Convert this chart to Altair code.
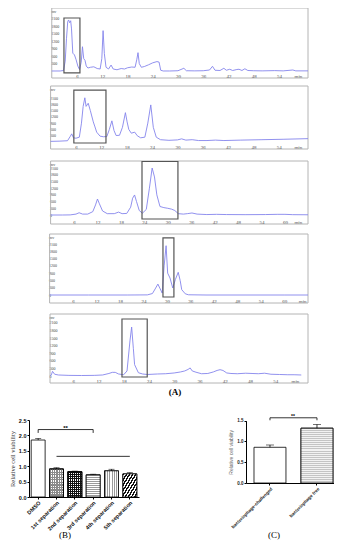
import altair as alt
import pandas as pd

SERIF = "Liberation Serif"
SANS = "Liberation Sans"

# ---------------- (A) chromatograms: retention time (min) / signal (mV) ----------------
t1 = [0, 1, 2, 2.8, 3.2, 3.5, 3.8, 4.0, 4.25, 4.5, 4.7, 5.0, 5.4, 5.8, 6.2, 6.6, 7.0, 7.3, 7.6, 7.9,
      8.2, 8.6, 9.2, 10.0, 10.8, 11.5, 11.9, 12.2, 12.5, 12.9, 13.5, 14.1, 14.6, 15.5, 16.5, 17.3,
      18.0, 19.0, 19.8, 20.2, 20.5, 20.8, 21.3, 22.0, 23.0, 24.0, 25.0, 25.5, 25.9, 26.5, 28, 30,
      31.4, 32, 34, 36, 37.5, 38.2, 38.8, 40, 40.9, 41.5, 42.3, 43, 44, 44.5, 45.2, 45.9, 46.6, 48,
      50, 53, 55, 57.3, 58, 60.9]
v1 = [0, 0, 0, 20, 400, 1300, 2000, 2060, 1950, 2030, 1700, 720, 650, 450, 200, 60, 350, 980, 500, 430,
      200, 120, 150, 170, 100, 80, 500, 1630, 700, 150, 80, 240, 80, 50, 100, 80,
      130, 160, 150, 450, 740, 300, 150, 180, 250, 330, 380, 360, 30, 0, 0, 10,
      110, 10, 5, 10, 40, 190, 30, 20, 110, 30, 70, 20, 60, 70, 20, 90, 20, 10,
      5, 15, 5, 40, 5, 5]

t2 = [0, 2, 4, 4.6, 5.0, 5.4, 6.0, 6.8, 7.3, 7.7, 8.1, 8.4, 8.9, 9.4, 10.1, 10.5, 10.9, 11.7, 12.5, 13.3,
      13.9, 14.5, 15.0, 15.5, 16.3, 17.0, 17.7, 18.1, 18.5, 19.1, 19.9, 20.5, 21.3, 22.3, 23.0, 23.7,
      24.3, 25.0, 26.0, 28, 30, 31, 32, 33.5, 35, 37, 39, 41, 45, 50, 55, 60.9]
v2 = [30, 40, 60, 250, 390, 200, 180, 230, 900, 1700, 2110, 1700, 1850, 1500, 960, 720, 470, 280, 250, 260,
      600, 1010, 550, 310, 320, 700, 1400, 960, 600, 420, 470, 300, 200, 230, 900, 1770,
      700, 230, 110, 80, 100, 150, 90, 110, 70, 70, 90, 70, 90, 110, 130, 160]

t3 = [0, 3, 5, 6.5, 7.3, 8.2, 9.5, 10.8, 11.5, 12.0, 12.5, 13.3, 14.5, 16.3, 17.4, 18.3, 19.5, 20.5, 21.0, 21.5,
      22.0, 22.7, 23.5, 24.5, 25.3, 26.0, 26.6, 27.2, 28.0, 29.0, 30.0, 31.0, 31.8, 32.7, 34, 35, 36.2, 37.5,
      40, 42.5, 45, 50, 55, 58, 60, 62, 65.9]
v3 = [0, 0, 5, 40, 100, 40, 40, 150, 450, 715, 500, 180, 60, 60, 130, 60, 70, 350, 750, 895,
      600, 200, 80, 250, 1200, 2100, 1700, 900, 380, 330, 300, 260, 200, 60, 40, 60, 90, 40,
      20, 30, 20, 15, 20, 30, 30, 15, 10]

t4 = [0, 10, 20, 25, 26.3, 27.0, 27.7, 28.3, 28.8, 29.3, 29.8, 30.2, 30.8, 31.5, 32.2, 32.9, 33.4, 33.8,
      34.7, 35.5, 40, 50, 60, 66.1]
v4 = [0, 0, 0, 5, 60, 250, 450, 250, 80, 1200, 2030, 900, 700, 290, 650, 935, 600, 220,
      50, 10, 0, 0, 0, 0]

t5 = [0.5, 0.8, 1.1, 1.6, 2.5, 5, 8, 11, 13, 14.5, 15.3, 16.0, 16.8, 18.0, 18.8, 19.5, 19.9, 20.3, 20.6, 21.5,
      22.5, 23.6, 26, 28, 30, 31.5, 32.5, 33.3, 33.8, 34.3, 35.2, 36.5, 38, 39.3, 40.2, 40.9, 41.6, 42.5,
      43.5, 45, 47, 48.5, 50, 51.5, 53, 55, 57, 58.5, 60.2]
v5 = [0, 40, 185, 70, 40, 25, 20, 25, 40, 100, 145, 145, 80, 50, 200, 1390, 1940, 1100, 450, 130,
      80, 60, 80, 90, 120, 160, 200, 260, 320, 200, 150, 90, 100, 160, 220, 250, 220, 120,
      100, 90, 110, 100, 90, 110, 70, 60, 50, 50, 40]

# highlighted fractions: [t_start, t_end, low, high]
box1 = [2.9, 6.7, -80, 2140]
box2 = [5.5, 13.1, -48, 2480]
box3 = [23.4, 32.6, -179, 2390]
box4 = [29.0, 31.8, -82, 2350]
box5 = [17.6, 23.6, -40, 2257]

x_ticks_a = [6, 12, 18, 24, 30, 36, 42, 48, 54]
x_ticks_b = [6, 12, 18, 24, 30, 36, 42, 48, 54, 60]
y_ticks_a = [300, 600, 900, 1200, 1500, 1800, 2100]
y_ticks_b = [0, 300, 600, 900, 1200, 1500, 1800, 2100]

# ---------------- (B) and (C) cell viability ----------------
b_cats = ["DMSO", "1st separation", "2nd separation", "3rd separation", "4th separation", "5th separation"]
b_vals = [1.85, 0.91, 0.82, 0.72, 0.85, 0.75]
b_errs = [0.05, 0.04, 0.02, 0.02, 0.05, 0.04]
b_bracket = [2.08, 2.19]       # significance bracket DMSO vs 3rd separation
b_line = 1.32                   # line over separations
c_cats = ["bacteriophage-challenged", "bacteriophage free"]
c_vals = [0.86, 1.32]
c_errs = [0.055, 0.09]
c_bracket = [1.51, 1.57]

# ---------------- layout (pixels) ----------------
W, H = 326, 534
LINE = "#8585ec"
FRAME = "#b4b4b4"
BOX = "#555555"

geo = [
    dict(xdom=[0, 60.9], xr=[43.75, 300], ydom=[-283, 2544], yr=[70, 0], xt=x_ticks_a, yt=y_ticks_a, minv=58.5),
    dict(xdom=[0, 60.9], xr=[42.6, 300], ydom=[-334, 2673], yr=[141, 78], xt=x_ticks_a, yt=y_ticks_a, minv=58.5),
    dict(xdom=[0, 65.9], xr=[42.6, 300], ydom=[-402, 2413], yr=[216, 153], xt=x_ticks_b, yt=y_ticks_b, minv=63.3),
    dict(xdom=[0, 66.1], xr=[41.6, 300], ydom=[-329, 2512], yr=[295, 226], xt=x_ticks_b, yt=y_ticks_b, minv=64.6),
    dict(xdom=[0.5, 61.8], xr=[42, 300], ydom=[-277, 2456], yr=[375, 306], xt=x_ticks_a, yt=y_ticks_b, minv=58.7),
]


def chrom(t, v, box, g):
    df = pd.DataFrame({"t": t, "v": v})

    def xs():
        return alt.Scale(domain=g["xdom"], range=g["xr"], nice=False, zero=False)

    def ys():
        return alt.Scale(domain=g["ydom"], range=g["yr"], nice=False, zero=False)

    upp = (g["ydom"][1] - g["ydom"][0]) / (g["yr"][0] - g["yr"][1])
    mv = round(g["ydom"][1] - 3.5 * upp)
    xaxis = alt.Axis(orient="bottom", offset=-(H - g["yr"][0]), values=g["xt"] + [g["minv"]],
                     labelExpr=f"datum.value == {g['minv']} ? 'min' : datum.label",
                     domain=False, ticks=False, tickSize=0, grid=False, labelPadding=-3,
                     labelBaseline="middle", labelFont=SERIF, labelFontSize=5, labelColor="#444",
                     labelFlush=False, labelOverlap=False, title=None)
    yaxis = alt.Axis(orient="left", offset=-g["xr"][0], values=g["yt"] + [mv], format="d",
                     labelExpr=f"datum.value == {mv} ? 'mv' : datum.label",
                     domain=False, ticks=False, tickSize=0, grid=False, labelPadding=1,
                     labelAlign="left", labelBaseline="middle", labelFont=SERIF, labelFontSize=4,
                     labelColor="#444", labelFlush=False, labelOverlap=False, title=None)
    frame = alt.Chart(pd.DataFrame({"k": [0]})).mark_rect(
        fillOpacity=0, stroke=FRAME, strokeWidth=1).encode(
        x=alt.X(datum=g["xdom"][0], scale=xs(), axis=None), x2=alt.X2(datum=g["xdom"][1]),
        y=alt.Y(datum=g["ydom"][0], scale=ys(), axis=None), y2=alt.Y2(datum=g["ydom"][1]))
    line = alt.Chart(df).mark_line(color=LINE, strokeWidth=0.9).encode(
        x=alt.X("t:Q", scale=xs(), axis=xaxis), y=alt.Y("v:Q", scale=ys(), axis=yaxis))
    bdf = pd.DataFrame({"a": [box[0]], "b": [box[1]], "lo": [box[2]], "hi": [box[3]]})
    rect = alt.Chart(bdf).mark_rect(fillOpacity=0, stroke=BOX, strokeWidth=1.2).encode(
        x=alt.X("a:Q", scale=xs(), axis=None), x2="b:Q",
        y=alt.Y("lo:Q", scale=ys(), axis=None), y2="hi:Q")
    return [frame, line, rect]


layers = []
for (t, v, b, g) in [(t1, v1, box1, geo[0]), (t2, v2, box2, geo[1]), (t3, v3, box3, geo[2]),
                     (t4, v4, box4, geo[3]), (t5, v5, box5, geo[4])]:
    layers += chrom(t, v, b, g)


def stripes(orient, n, line, bg, frac=0.5):
    x1, y1, x2, y2 = {"h": (0, 0, 0, 1), "v": (0, 0, 1, 0), "d": (0, 0, 1, 1)}[orient]
    stops = []
    for i in range(n):
        a, b, c = i / n, (i + frac) / n, (i + 1) / n
        stops += [{"offset": a, "color": line}, {"offset": b, "color": line},
                  {"offset": b, "color": bg}, {"offset": c, "color": bg}]
    return {"gradient": "linear", "x1": x1, "y1": y1, "x2": x2, "y2": y2, "stops": stops}


CLEAR = "rgba(255,255,255,0)"

# ---- panel B ----
B_Y0, B_Y1 = 489, 412
B_PPU = (B_Y0 - B_Y1) / 2.5
B_BW = 14
dfb = pd.DataFrame({"cat": b_cats, "val": b_vals, "hi": [v + e for v, e in zip(b_vals, b_errs)]})


def xB():
    return alt.Scale(type="band", domain=b_cats, range=[21, 131], paddingInner=0.24, paddingOuter=0.12)


def yB():
    return alt.Scale(domain=[0, 2.5], range=[B_Y0, B_Y1], nice=False, zero=False)


xB_axis = alt.Axis(orient="bottom", offset=-(H - B_Y0), labelAngle=315, labelFont=SANS,
                   labelFontWeight="bold", labelFontSize=5.5, labelColor="#111", tickSize=2,
                   domainColor="#000", tickColor="#000", labelPadding=1, title=None, grid=False)
yB_axis = alt.Axis(orient="left", offset=-21, values=[0, 0.5, 1.0, 1.5, 2.0, 2.5], format=".1f",
                   labelFont=SANS, labelFontWeight="bold", labelFontSize=5.5, labelColor="#111",
                   tickSize=2, domainColor="#000", tickColor="#000", labelPadding=1, grid=False,
                   title="Relative cell viability", titleFont=SERIF, titleFontSize=6.5,
                   titleFontWeight="normal", titleColor="#333", titlePadding=3)


def bpx(c):
    return b_vals[b_cats.index(c)] * B_PPU


b_fills = {
    "1st separation": [stripes("h", round(bpx("1st separation") / 2.5), "#8a8a8a", "#ffffff"),
                       stripes("v", round(B_BW / 2.5), "#8a8a8a", CLEAR)],
    "2nd separation": [stripes("h", round(bpx("2nd separation") / 2.0), "#111111", "#ffffff"),
                       stripes("v", round(B_BW / 2.0), "#111111", CLEAR)],
    "3rd separation": [stripes("h", round(bpx("3rd separation") / 2.0), "#9a9a9a", "#ffffff", 0.4)],
    "4th separation": [stripes("v", round(B_BW / 2.2), "#9a9a9a", "#ffffff", 0.45)],
    "5th separation": [stripes("d", 9, "#111111", "#ffffff")],
}

XB = dict(scale=xB(), axis=None, sort=b_cats)
base_b = alt.Chart(dfb)
layers.append(base_b.mark_bar(fill="white", stroke="#000", strokeWidth=0.8).encode(
    x=alt.X("cat:N", scale=xB(), axis=xB_axis, sort=b_cats), y=alt.Y("val:Q", scale=yB(), axis=yB_axis)))
for cat, fills in b_fills.items():
    for f in fills:
        layers.append(base_b.transform_filter(alt.datum.cat == cat).mark_bar(
            fill=f, stroke="#000", strokeWidth=0.8).encode(
            x=alt.X("cat:N", **XB), y=alt.Y("val:Q", scale=yB(), axis=None)))
layers.append(base_b.mark_rule(color="#000", strokeWidth=0.8).encode(
    x=alt.X("cat:N", **XB), y=alt.Y("val:Q", scale=yB(), axis=None), y2="hi:Q"))
layers.append(base_b.mark_tick(color="#000", thickness=0.8, size=6).encode(
    x=alt.X("cat:N", **XB), y=alt.Y("hi:Q", scale=yB(), axis=None)))
brk_b = pd.DataFrame({"cat": [b_cats[0], b_cats[0], b_cats[3], b_cats[3]],
                      "y": [b_bracket[0], b_bracket[1], b_bracket[1], b_bracket[0]], "o": [0, 1, 2, 3]})
layers.append(alt.Chart(brk_b).mark_line(color="#000", strokeWidth=0.8).encode(
    x=alt.X("cat:N", **XB), y=alt.Y("y:Q", scale=yB(), axis=None), order="o:Q"))
ln_b = pd.DataFrame({"cat": [b_cats[1], b_cats[5]], "y": [b_line, b_line], "o": [0, 1]})
layers.append(alt.Chart(ln_b).mark_line(color="#000", strokeWidth=0.8).encode(
    x=alt.X("cat:N", **XB), y=alt.Y("y:Q", scale=yB(), axis=None), order="o:Q"))
star_b = pd.DataFrame({"cat": [b_cats[1]], "y": [b_bracket[1]], "s": ["**"]})
layers.append(alt.Chart(star_b).mark_text(dx=9, dy=-2, fontSize=6, font=SANS, fontWeight="bold",
                                          color="#000").encode(
    x=alt.X("cat:N", **XB), y=alt.Y("y:Q", scale=yB(), axis=None), text="s:N"))

# ---- panel C ----
C_Y0, C_Y1 = 475, 412.7
C_PPU = (C_Y0 - C_Y1) / 1.5
dfc = pd.DataFrame({"cat": c_cats, "val": c_vals, "hi": [v + e for v, e in zip(c_vals, c_errs)]})


def xC():
    return alt.Scale(type="band", domain=c_cats, range=[238, 326], paddingInner=0.32,
                     paddingOuter=0.096, align=0.885)


def yC():
    return alt.Scale(domain=[0, 1.5], range=[C_Y0, C_Y1], nice=False, zero=False)


xC_axis = alt.Axis(orient="bottom", offset=-(H - C_Y0), labelAngle=315, labelFont=SANS,
                   labelFontWeight="bold", labelFontSize=4.5, labelColor="#222", tickSize=2,
                   domainColor="#000", tickColor="#000", labelPadding=1, title=None, grid=False)
yC_axis = alt.Axis(orient="left", offset=-238, values=[0, 0.5, 1.0, 1.5], format=".1f",
                   labelFont=SANS, labelFontWeight="bold", labelFontSize=4.5, labelColor="#222",
                   tickSize=2, domainColor="#000", tickColor="#000", labelPadding=1, grid=False,
                   title="Relative cell viability", titleFont=SANS, titleFontSize=5,
                   titleFontWeight="normal", titleColor="#666", titlePadding=3)
XC = dict(scale=xC(), axis=None, sort=c_cats)
base_c = alt.Chart(dfc)
layers.append(base_c.mark_bar(fill="white", stroke="#000", strokeWidth=0.8).encode(
    x=alt.X("cat:N", scale=xC(), axis=xC_axis, sort=c_cats), y=alt.Y("val:Q", scale=yC(), axis=yC_axis)))
layers.append(base_c.transform_filter(alt.datum.cat == c_cats[1]).mark_bar(
    fill=stripes("h", round(c_vals[1] * C_PPU / 2.0), "#c4c4c4", "#f2f2f2", 0.5),
    stroke="#000", strokeWidth=0.8).encode(
    x=alt.X("cat:N", **XC), y=alt.Y("val:Q", scale=yC(), axis=None)))
layers.append(base_c.mark_rule(color="#000", strokeWidth=0.8).encode(
    x=alt.X("cat:N", **XC), y=alt.Y("val:Q", scale=yC(), axis=None), y2="hi:Q"))
layers.append(base_c.mark_tick(color="#000", thickness=0.8, size=8).encode(
    x=alt.X("cat:N", **XC), y=alt.Y("hi:Q", scale=yC(), axis=None)))
brk_c = pd.DataFrame({"cat": [c_cats[0], c_cats[0], c_cats[1], c_cats[1]],
                      "y": [c_bracket[0], c_bracket[1], c_bracket[1], c_bracket[0]], "o": [0, 1, 2, 3]})
layers.append(alt.Chart(brk_c).mark_line(color="#000", strokeWidth=0.8).encode(
    x=alt.X("cat:N", **XC), y=alt.Y("y:Q", scale=yC(), axis=None), order="o:Q"))
star_c = pd.DataFrame({"cat": [c_cats[0]], "y": [c_bracket[1]], "s": ["**"]})
layers.append(alt.Chart(star_c).mark_text(dx=23, dy=-2, fontSize=5, font=SANS, fontWeight="bold",
                                          color="#000").encode(
    x=alt.X("cat:N", **XC), y=alt.Y("y:Q", scale=yC(), axis=None), text="s:N"))

# ---- panel letters ----
one = alt.Data(values=[{}])
layers += [
    alt.Chart(one).mark_text(text="(A)", font=SERIF, fontSize=9, fontWeight="bold", color="#000").encode(
        x=alt.value(167), y=alt.value(384)),
    alt.Chart(one).mark_text(text="(B)", font=SERIF, fontSize=9, color="#000").encode(
        x=alt.value(57), y=alt.value(527)),
    alt.Chart(one).mark_text(text="(C)", font=SERIF, fontSize=9, color="#000").encode(
        x=alt.value(266), y=alt.value(527)),
]

chart = alt.layer(*layers).resolve_scale(
    x="independent", y="independent").properties(
    width=W, height=H, padding=0, autosize=alt.AutoSizeParams(type="none")).configure_view(stroke=None)

chart.save("out.html", embed_options={"renderer": "svg", "actions": False})
